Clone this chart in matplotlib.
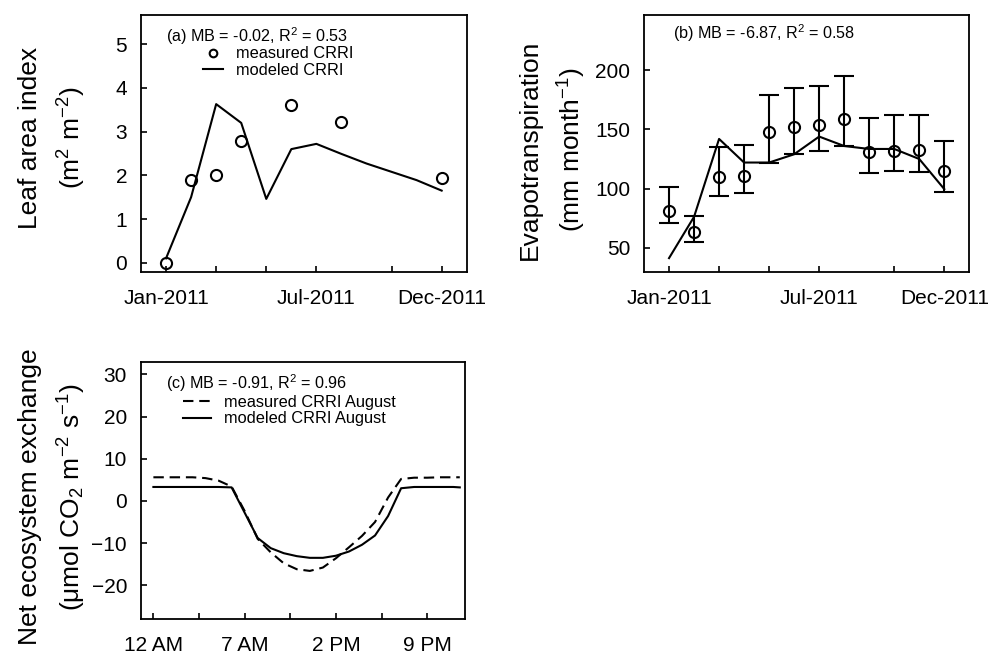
import numpy as np
import matplotlib
matplotlib.use('Agg')
import matplotlib.pyplot as plt
from matplotlib.lines import Line2D

plt.rcParams['font.family'] = ['Liberation Sans', 'DejaVu Sans']
plt.rcParams['mathtext.fontset'] = 'custom'
plt.rcParams['mathtext.rm'] = 'Liberation Sans'
plt.rcParams['mathtext.default'] = 'regular'

# (a) leaf area index, month index 0 = Jan-2011
lai_meas_month = [0, 1, 2, 3, 5, 7, 11]
lai_meas = [0.0, 1.9, 2.0, 2.78, 3.6, 3.22, 1.93]
lai_mod_month = [0, 1, 2, 3, 4, 5, 6, 7, 8, 9, 10, 11]
lai_mod = [0.1, 1.5, 3.63, 3.2, 1.46, 2.6, 2.72, 2.49, 2.27, 2.08, 1.89, 1.65]

# (b) evapotranspiration per month
et_month = [0, 1, 2, 3, 4, 5, 6, 7, 8, 9, 10, 11]
et_meas = [81, 63, 110, 111, 148, 152, 154, 159, 131, 132, 133, 115]
et_upper = [101, 77, 135, 137, 179, 185, 187, 195, 160, 162, 162, 140]
et_lower = [71, 55, 94, 96, 122, 129, 132, 136, 113, 115, 114, 97]
et_mod = [41, 76, 142, 122, 122, 129, 144, 136, 133.5, 133.5, 125, 99.5]

# (c) diurnal NEE in August
hours = [0, 1, 2, 3, 4, 5, 6, 7, 8, 9, 10, 11, 12, 13, 14, 15, 16, 17, 18, 19, 20, 21, 22, 23, 23.5]
nee_meas = [5.6, 5.6, 5.6, 5.6, 5.4, 4.8, 3.4, -2.4, -9.0, -12.2, -14.8, -16.2, -16.6, -15.8, -13.6,
            -11.0, -8.3, -5.0, 0.8, 5.2, 5.5, 5.5, 5.6, 5.6, 5.6]
nee_mod = [3.3, 3.3, 3.3, 3.3, 3.3, 3.3, 3.2, -2.8, -8.8, -11.2, -12.4, -13.1, -13.5, -13.5, -13.0,
           -12.0, -10.4, -8.2, -3.6, 3.0, 3.3, 3.3, 3.3, 3.3, 3.2]

month_ticks = [0, 2, 4, 6, 9, 11]
month_labels = ['Jan-2011', '', '', 'Jul-2011', '', 'Dec-2011']
hour_ticks = [0, 3.5, 7, 10.5, 14, 17.5, 21]
hour_labels = ['12 AM', '', '7 AM', '', '2 PM', '', '9 PM']

W, H = 989, 655
fig = plt.figure(figsize=(W / 100, H / 100), dpi=100)
ax1 = fig.add_axes([141 / W, 1 - 272.3 / H, 325.7 / W, 257.3 / H])
ax2 = fig.add_axes([644 / W, 1 - 272.3 / H, 325.3 / W, 257.3 / H])
ax3 = fig.add_axes([141 / W, 1 - 619 / H, 324 / W, 257.3 / H])


def style(ax):
    for s in ax.spines.values():
        s.set_linewidth(1.3)
    ax.tick_params(direction='in', length=4, width=1.2, labelsize=15, pad=12, top=False, right=False)
    ax.tick_params(axis='y', pad=10)


lw = 1.5
txt = 11.6
leg = 11.8
# panel a
ax1.plot(lai_mod_month, lai_mod, color='black', lw=lw)
ax1.plot(lai_meas_month, lai_meas, 'o', mfc='none', mec='black', mew=1.5, ms=8)
ax1.set_xlim(-1, 12)
ax1.set_ylim(-0.22, 5.67)
ax1.set_yticks([0, 1, 2, 3, 4, 5])
ax1.set_xticks(month_ticks)
ax1.set_xticklabels(month_labels)
style(ax1)
ax1.text(0.076, 0.895, '(a) MB = -0.02, R$^2$ = 0.53', transform=ax1.transAxes, fontsize=txt, va='baseline')
h_a = [Line2D([], [], ls='none', marker='o', mfc='none', mec='black', mew=1.5, ms=5.5),
       Line2D([], [], color='black', lw=lw)]
ax1.legend(h_a, ['measured CRRI', 'modeled CRRI'], loc='upper left', bbox_to_anchor=(0.19, 0.878),
           frameon=False, fontsize=leg, borderpad=0, borderaxespad=0, handlelength=1.25,
           handletextpad=0.8, labelspacing=0.1)

# panel b
ax2.plot(et_month, et_mod, color='black', lw=lw)
yerr = [np.array(et_meas) - np.array(et_lower), np.array(et_upper) - np.array(et_meas)]
ax2.errorbar(et_month, et_meas, yerr=yerr, fmt='o', mfc='none', mec='black', mew=1.5, ms=8,
             ecolor='black', elinewidth=1.5, capsize=7.5, capthick=1.5)
ax2.set_xlim(-1, 12)
ax2.set_ylim(29, 247)
ax2.set_yticks([50, 100, 150, 200])
ax2.set_xticks(month_ticks)
ax2.set_xticklabels(month_labels)
style(ax2)
ax2.text(0.088, 0.9075, '(b) MB = -6.87, R$^2$ = 0.58', transform=ax2.transAxes, fontsize=txt, va='baseline')

# panel c
ax3.plot(hours, nee_meas, color='black', lw=lw, dashes=(5, 2.8))
ax3.plot(hours, nee_mod, color='black', lw=lw)
ax3.set_xlim(-0.95, 23.9)
ax3.set_ylim(-28, 33)
ax3.set_yticks([-20, -10, 0, 10, 20, 30])
ax3.set_xticks(hour_ticks)
ax3.set_xticklabels(hour_labels)
style(ax3)
ax3.text(0.076, 0.894, '(c) MB = -0.91, R$^2$ = 0.96', transform=ax3.transAxes, fontsize=txt, va='baseline')
h_c = [Line2D([], [], color='black', lw=lw, dashes=(5, 2.8)), Line2D([], [], color='black', lw=lw)]
ax3.legend(h_c, ['measured CRRI August', 'modeled CRRI August'], loc='upper left',
           bbox_to_anchor=(0.13, 0.872), frameon=False, fontsize=leg, borderpad=0, borderaxespad=0,
           handlelength=1.7, handletextpad=0.8, labelspacing=0.1)

# y labels, two lines each
ylab = 19
fig.text(30 / W, 1 - 138 / H, 'Leaf area index', rotation=90, ha='center', va='center', fontsize=ylab)
fig.text(72 / W, 1 - 138 / H, '(m$^2$ m$^{-2}$)', rotation=90, ha='center', va='center', fontsize=ylab)
fig.text(530 / W, 1 - 150 / H, 'Evapotranspiration', rotation=90, ha='center', va='center', fontsize=ylab)
fig.text(572 / W, 1 - 150 / H, '(mm month$^{-1}$)', rotation=90, ha='center', va='center', fontsize=ylab)
fig.text(30 / W, 1 - 497 / H, 'Net ecosystem exchange', rotation=90, ha='center', va='center', fontsize=ylab)
fig.text(72 / W, 1 - 497 / H, '(\u03bcmol CO$_2$ m$^{-2}$ s$^{-1}$)', rotation=90, ha='center', va='center',
         fontsize=ylab)

fig.savefig('out.png', dpi=100, facecolor='white')
